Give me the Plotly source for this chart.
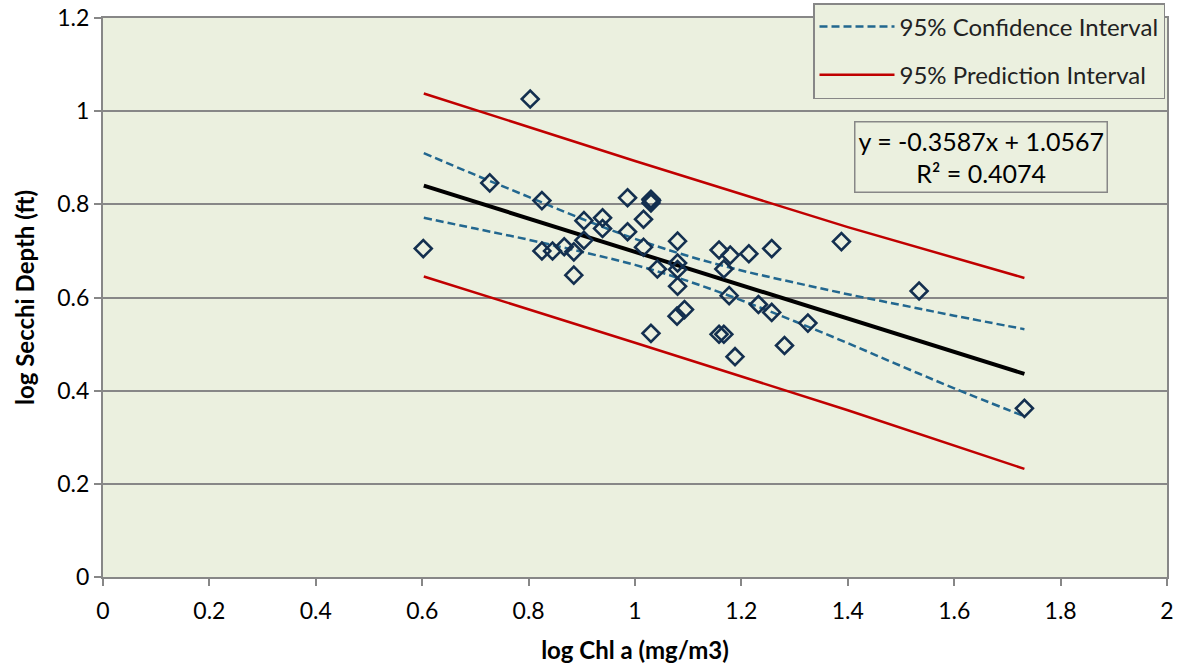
import plotly.graph_objects as go

# Observed data (log Chl a, log Secchi depth)
chl = [0.602, 0.803, 0.727, 0.825, 0.825, 0.845, 0.867, 0.885, 0.885, 0.904,
       0.904, 0.939, 0.939, 0.986, 0.986, 1.016, 1.016, 1.030, 1.030, 1.031,
       1.030, 1.042, 1.080, 1.080, 1.080, 1.080, 1.079, 1.093, 1.158, 1.167,
       1.179, 1.177, 1.158, 1.167, 1.188, 1.214, 1.232, 1.257, 1.257, 1.281,
       1.325, 1.388, 1.534, 1.732]
secchi = [0.705, 1.026, 0.846, 0.808, 0.700, 0.700, 0.709, 0.698, 0.648, 0.765,
          0.723, 0.771, 0.748, 0.814, 0.741, 0.768, 0.708, 0.811, 0.803, 0.808,
          0.523, 0.661, 0.721, 0.674, 0.660, 0.624, 0.560, 0.574, 0.702, 0.661,
          0.691, 0.604, 0.521, 0.521, 0.473, 0.694, 0.585, 0.705, 0.568, 0.497,
          0.545, 0.720, 0.614, 0.362]

# Regression line end points
fit_x = [0.603, 1.732]
fit_y = [0.840, 0.436]

# 95% confidence interval
ci_x = [0.603, 0.7, 0.8, 0.9, 1.0, 1.1, 1.2, 1.3, 1.4, 1.5, 1.6, 1.732]
ci_upper = [0.910, 0.863, 0.816, 0.769, 0.726, 0.689, 0.658, 0.632, 0.607, 0.584, 0.561, 0.532]
ci_lower = [0.771, 0.748, 0.724, 0.698, 0.670, 0.635, 0.594, 0.549, 0.502, 0.453, 0.405, 0.345]

# 95% prediction interval
pi_x = [0.603, 1.0, 1.4, 1.732]
pi_upper = [1.038, 0.893, 0.751, 0.642]
pi_lower = [0.645, 0.503, 0.358, 0.232]

x_ticks = [0, 0.2, 0.4, 0.6, 0.8, 1, 1.2, 1.4, 1.6, 1.8, 2]
x_labels = ["0", "0.2", "0.4", "0.6", "0.8", "1", "1.2", "1.4", "1.6", "1.8", "2"]
y_ticks = [0, 0.2, 0.4, 0.6, 0.8, 1, 1.2]
y_labels = ["0", "0.2", "0.4", "0.6", "0.8", "1", "1.2"]

eq_text = "y = -0.3587x + 1.0567<br>R² = 0.4074"

FONT = "Lato"
BG = "#EBF0DF"
GRID = "#878787"
CI_COLOR = "#22678F"
PI_COLOR = "#C00000"
MARK = "#132F4F"

fig = go.Figure()

fig.add_trace(go.Scatter(x=ci_x, y=ci_upper, mode="lines",
                         line=dict(color=CI_COLOR, width=2.5, dash="8px,4px", shape="spline"),
                         name="95% Confidence Interval", legendgroup="ci"))
fig.add_trace(go.Scatter(x=ci_x, y=ci_lower, mode="lines",
                         line=dict(color=CI_COLOR, width=2.5, dash="8px,4px", shape="spline"),
                         legendgroup="ci", showlegend=False))
fig.add_trace(go.Scatter(x=pi_x, y=pi_upper, mode="lines",
                         line=dict(color=PI_COLOR, width=2.5),
                         name="95% Prediction Interval", legendgroup="pi"))
fig.add_trace(go.Scatter(x=pi_x, y=pi_lower, mode="lines",
                         line=dict(color=PI_COLOR, width=2.5),
                         legendgroup="pi", showlegend=False))
fig.add_trace(go.Scatter(x=fit_x, y=fit_y, mode="lines",
                         line=dict(color="black", width=4),
                         showlegend=False))
fig.add_trace(go.Scatter(x=chl, y=secchi, mode="markers",
                         marker=dict(symbol="diamond-open", size=13,
                                     color=MARK, line=dict(width=2.6, color=MARK)),
                         showlegend=False))

fig.add_annotation(x=(1108 - 103) / 1064, xref="paper",
                   y=(577 - 121) / 559, yref="paper",
                   xanchor="right", yanchor="top",
                   text=eq_text, showarrow=False, align="center",
                   font=dict(family=FONT, size=25, color="black"),
                   bgcolor=BG, bordercolor=GRID, borderwidth=1.5,
                   borderpad=3)

fig.update_layout(
    width=1183, height=670,
    margin=dict(l=103, r=16, t=18, b=93, autoexpand=False),
    paper_bgcolor="white",
    plot_bgcolor=BG,
    font=dict(family=FONT, size=23, color="black"),
    showlegend=True,
    legend=dict(x=(813 - 103) / 1064, y=(577 - 3) / 559,
                xanchor="left", yanchor="top",
                bgcolor=BG, bordercolor=GRID, borderwidth=1.5,
                font=dict(family=FONT, size=24, color="#222222"),
                traceorder="grouped", tracegroupgap=14,
                itemwidth=75),
    xaxis=dict(range=[0, 2], tickvals=x_ticks, ticktext=x_labels,
               showgrid=False, zeroline=False,
               showline=True, linecolor=GRID, linewidth=2, mirror=True,
               ticks="outside", ticklen=7, tickcolor=GRID, tickwidth=1.5,
               ticklabelstandoff=5,
               tickfont=dict(family=FONT, size=23),
               title=dict(text="<b>log Chl a (mg/m3)</b>", standoff=20,
                          font=dict(family=FONT, size=24))),
    yaxis=dict(range=[0, 1.2], tickvals=y_ticks, ticktext=y_labels,
               showgrid=True, gridcolor=GRID, gridwidth=2, zeroline=False,
               showline=True, linecolor=GRID, linewidth=2, mirror=True,
               ticks="outside", ticklen=7, tickcolor=GRID, tickwidth=1.5,
               tickfont=dict(family=FONT, size=23),
               title=dict(text="<b>log Secchi Depth (ft)</b>", standoff=16,
                          font=dict(family=FONT, size=24))),
)

fig.write_html("out.html")
